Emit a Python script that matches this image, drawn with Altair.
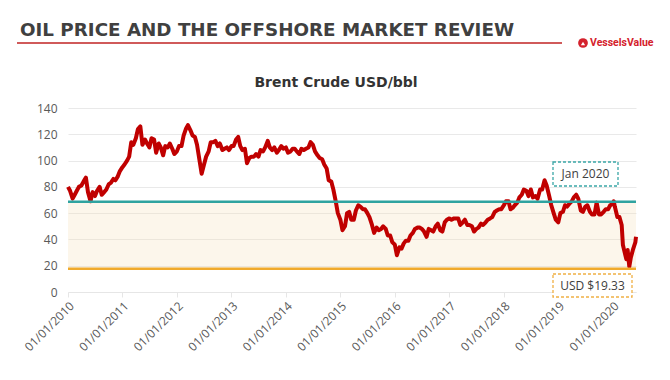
import altair as alt
import pandas as pd

# ---- data (semi-monthly Brent, USD/bbl) ----
years = list(range(2010, 2020))
semi_monthly = {
    2010: [80, 77, 71, 74, 77, 80, 81, 84, 87, 76, 69, 76, 73, 77, 80, 74, 76, 78, 82, 83, 86, 85, 88, 92],
    2011: [95, 97, 100, 103, 114, 112, 117, 124, 126, 112, 116, 113, 110, 117, 116, 106, 113, 110, 104, 111, 110, 113, 109, 105],
    2012: [107, 111, 111, 119, 124, 127, 123, 119, 118, 112, 100, 90, 97, 103, 107, 114, 114, 115, 111, 113, 108, 109, 110, 108],
    2013: [111, 111, 116, 118, 111, 108, 109, 98, 102, 103, 103, 105, 103, 108, 107, 110, 115, 110, 108, 110, 106, 108, 111, 109],
    2014: [110, 106, 107, 109, 109, 107, 105, 109, 108, 109, 110, 114, 112, 107, 104, 102, 101, 97, 94, 85, 84, 78, 69, 60],
    2015: [55, 47, 50, 60, 61, 55, 55, 62, 66, 65, 63, 63, 60, 57, 51, 45, 49, 47, 48, 50, 48, 43, 43, 38],
    2016: [36, 28, 34, 33, 37, 39, 39, 43, 45, 48, 49, 49, 48, 46, 42, 48, 47, 46, 50, 52, 47, 46, 53, 55],
    2017: [56, 55, 56, 56, 56, 51, 53, 55, 51, 51, 50, 46, 48, 49, 52, 51, 53, 55, 56, 57, 61, 62, 63, 63],
    2018: [66, 69, 69, 63, 64, 66, 68, 72, 74, 78, 77, 73, 78, 72, 73, 71, 78, 78, 85, 81, 73, 66, 60, 55],
    2019: [53, 60, 61, 66, 65, 67, 69, 72, 74, 71, 62, 61, 65, 66, 61, 59, 59, 68, 59, 59, 61, 63, 63, 66],
}
dates_2020 = ["2020-01-01", "2020-01-08", "2020-01-15", "2020-02-01", "2020-02-15", "2020-03-01",
              "2020-03-09", "2020-03-15", "2020-04-01", "2020-04-10", "2020-04-21", "2020-05-01",
              "2020-05-15", "2020-06-01", "2020-06-05"]
prices_2020 = [67, 69, 65, 57, 57, 51, 36, 33, 25, 32, 19.33, 26, 32, 38, 42]

jan2020_level = 68.6
low_level = 17.6
tick_years = list(range(2010, 2021))

# ---- build table ----
dates, prices = [], []
for y in years:
    for i, v in enumerate(semi_monthly[y]):
        m = i // 2 + 1
        d = 1 if i % 2 == 0 else 15
        dates.append(f"{y}-{m:02d}-{d:02d}")
        prices.append(v)
dates += dates_2020
prices += prices_2020
df = pd.DataFrame({"date": dates, "price": prices})

W, H = 568, 184
yscale = alt.Scale(domain=[0, 140], nice=False, zero=True)
xscale = alt.Scale(type="utc", domain=[alt.DateTime(year=2010, month=1, date=1, utc=True),
                                       alt.DateTime(year=2020, month=6, date=5, utc=True)])

yaxis = alt.Axis(values=list(range(0, 141, 20)), grid=True, gridColor="#e9e9e9",
                 domain=False, ticks=False, labelPadding=11,
                 labelFont="Open Sans", labelFontSize=12, labelColor="#595959")
xaxis = alt.Axis(values=[alt.DateTime(year=y, month=1, date=1, utc=True) for y in tick_years],
                 format="%d/%m/%Y", labelAngle=-45, labelAlign="right",
                 labelBaseline="top", grid=False, domain=True, domainColor="#e6e6e6",
                 ticks=True, tickColor="#e6e6e6", tickSize=5, labelPadding=3,
                 labelFont="Open Sans", labelFontSize=12, labelColor="#595959")

band = alt.Chart(pd.DataFrame({"hi": [jan2020_level], "lo": [low_level]})).mark_rect(
    color="#f6dfb8", opacity=0.28
).encode(
    x=alt.value(0), x2=alt.value(W),
    y=alt.Y("hi:Q", scale=yscale, axis=yaxis, title=None), y2="lo:Q",
)

line = alt.Chart(df).mark_line(color="#c00000", strokeWidth=4, strokeJoin="round").encode(
    x=alt.X("date:T", scale=xscale, title=None, axis=xaxis),
    y=alt.Y("price:Q", scale=yscale, title=None, axis=yaxis),
)

rules_df = pd.DataFrame({"level": [jan2020_level, low_level], "col": ["#2fa3a0", "#f0aa2c"]})
rules = alt.Chart(rules_df).mark_rule(strokeWidth=2.5).encode(
    x=alt.value(0), x2=alt.value(W),
    y=alt.Y("level:Q", scale=yscale, axis=yaxis, title=None),
    color=alt.Color("col:N", scale=None),
)

one = pd.DataFrame({"a": [0]})

box1 = alt.Chart(one).mark_rect(fill="white", stroke="#3aa6a6", strokeWidth=1.3, strokeDash=[3, 2]).encode(
    x=alt.value(485), x2=alt.value(550), y=alt.value(54), y2=alt.value(78))
box2 = alt.Chart(one).mark_rect(fill="white", stroke="#f0b044", strokeWidth=1.3, strokeDash=[3, 2]).encode(
    x=alt.value(485), x2=alt.value(564), y=alt.value(166), y2=alt.value(189))
t1 = alt.Chart(one).mark_text(text="Jan 2020", font="Open Sans", fontSize=12, color="#404040",
                              align="center", baseline="middle").encode(x=alt.value(517.5), y=alt.value(66))
t2 = alt.Chart(one).mark_text(text="USD $19.33", font="Open Sans", fontSize=12, color="#404040",
                              align="center", baseline="middle").encode(x=alt.value(524.5), y=alt.value(177.5))

header = alt.Chart(one).mark_text(text="OIL PRICE AND THE OFFSHORE MARKET REVIEW", font="DejaVu Sans",
                                  fontWeight="bold", fontSize=18.3, color="#404040", align="left",
                                  baseline="alphabetic").encode(x=alt.value(-48), y=alt.value(-72))
header_rule = alt.Chart(one).mark_rule(color="#d05a5a", strokeWidth=2).encode(
    x=alt.value(-51), x2=alt.value(494), y=alt.value(-65))
logo_dot = alt.Chart(one).mark_point(shape="circle", filled=True, size=95, color="#d4212c", opacity=1).encode(
    x=alt.value(515), y=alt.value(-65))
logo_tri = alt.Chart(one).mark_point(shape="triangle-up", filled=True, size=18, color="white", opacity=1).encode(
    x=alt.value(515), y=alt.value(-64.5))
logo_txt = alt.Chart(one).mark_text(text="VesselsValue", font="Roboto", fontSize=10.5, fontWeight="bold",
                                    color="#d4212c", align="left", baseline="middle").encode(
    x=alt.value(522), y=alt.value(-65))

subtitle = alt.Chart(one).mark_text(text="Brent Crude USD/bbl", font="DejaVu Sans", fontWeight="bold",
                                    fontSize=14, color="#333333", align="center",
                                    baseline="alphabetic").encode(x=alt.value(268), y=alt.value(-21))

chart = alt.layer(
    band, line, rules, box1, box2, t1, t2, header, header_rule, logo_dot, logo_tri, logo_txt, subtitle
).properties(
    width=W, height=H,
    autosize=alt.AutoSizeParams(type="none"),
    padding={"left": 60, "top": 100, "right": 22, "bottom": 66},
).configure_view(stroke=None)

chart.save("out.html", embed_options={"renderer": "svg", "actions": False})
